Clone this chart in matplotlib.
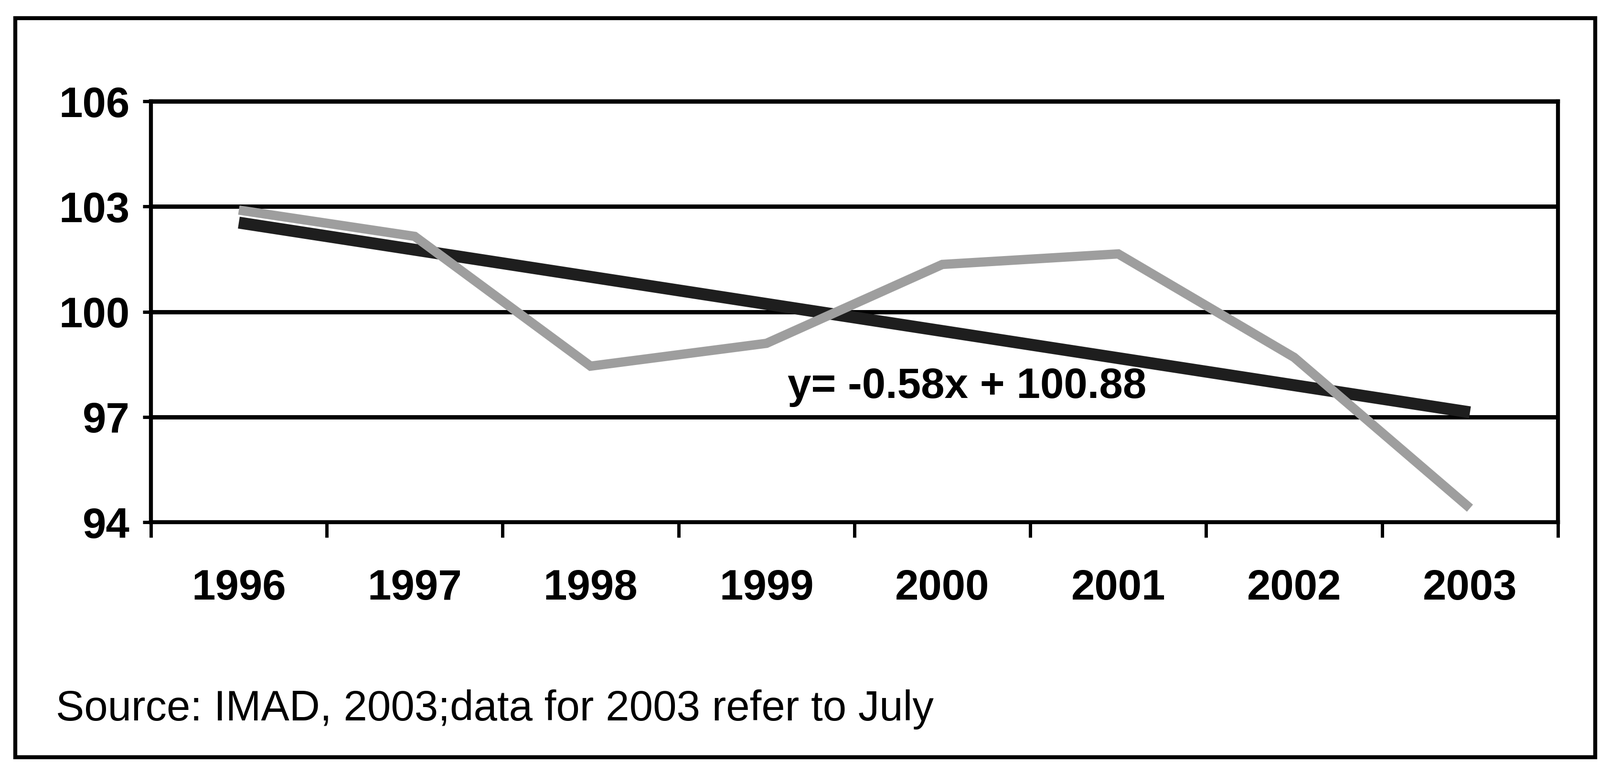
import matplotlib.pyplot as plt
from matplotlib.patches import Rectangle
import numpy as np

# Data
years = ['1996', '1997', '1998', '1999', '2000', '2001', '2002', '2003']
index_values = [102.9, 102.15, 98.45, 99.1, 101.35, 101.65, 98.7, 94.4]
y_ticks = [94, 97, 100, 103, 106]
equation = "y= -0.58x + 100.88"
source_note = "Source: IMAD, 2003;data for 2003 refer to July"

plt.rcParams['font.family'] = ['Liberation Sans', 'DejaVu Sans']

x = np.arange(len(years))
slope, intercept = np.polyfit(x, index_values, 1)
trend = slope * x + intercept

# Plot
fig = plt.figure(figsize=(33.5, 15.95), dpi=100)
ax = fig.add_axes([0.0943, 0.3147, 0.8794, 0.5523])

ax.plot(x, trend, color='#1e1e1e', linewidth=18, solid_capstyle='butt', zorder=3)
ax.plot(x, index_values, color='#9e9e9e', linewidth=14, solid_capstyle='butt',
        solid_joinstyle='miter', zorder=4)

ax.set_xlim(-0.5, len(years) - 0.5)
ax.set_ylim(94, 106)
ax.set_yticks(y_ticks)
ax.set_yticklabels([str(v) for v in y_ticks], fontsize=64, fontweight='bold')
ax.yaxis.grid(True, color='black', linewidth=6.5)
ax.set_axisbelow(True)

# category boundaries as major ticks, year labels on minor ticks
ax.set_xticks(np.arange(-0.5, len(years), 1.0))
ax.set_xticklabels([])
ax.set_xticks(x, minor=True)
ax.set_xticklabels(years, minor=True, fontsize=64, fontweight='bold')
ax.tick_params(axis='x', which='major', direction='out', length=23, width=5)
ax.tick_params(axis='x', which='minor', length=0, pad=70)
ax.tick_params(axis='y', direction='out', length=12, width=5, pad=20)

for s in ax.spines.values():
    s.set_linewidth(6)
    s.set_color('black')

ax.text(3.12, 97.85, equation, fontsize=64, fontweight='bold', va='center', ha='left', zorder=5)

fig.text(0.035, 0.069, source_note, fontsize=64, va='center', ha='left')

# outer frame
fig.patches.append(Rectangle((0.0096, 0.0063), 0.9874, 0.9697, transform=fig.transFigure,
                             fill=False, edgecolor='black', linewidth=6))

plt.savefig('out.png', dpi=100)
